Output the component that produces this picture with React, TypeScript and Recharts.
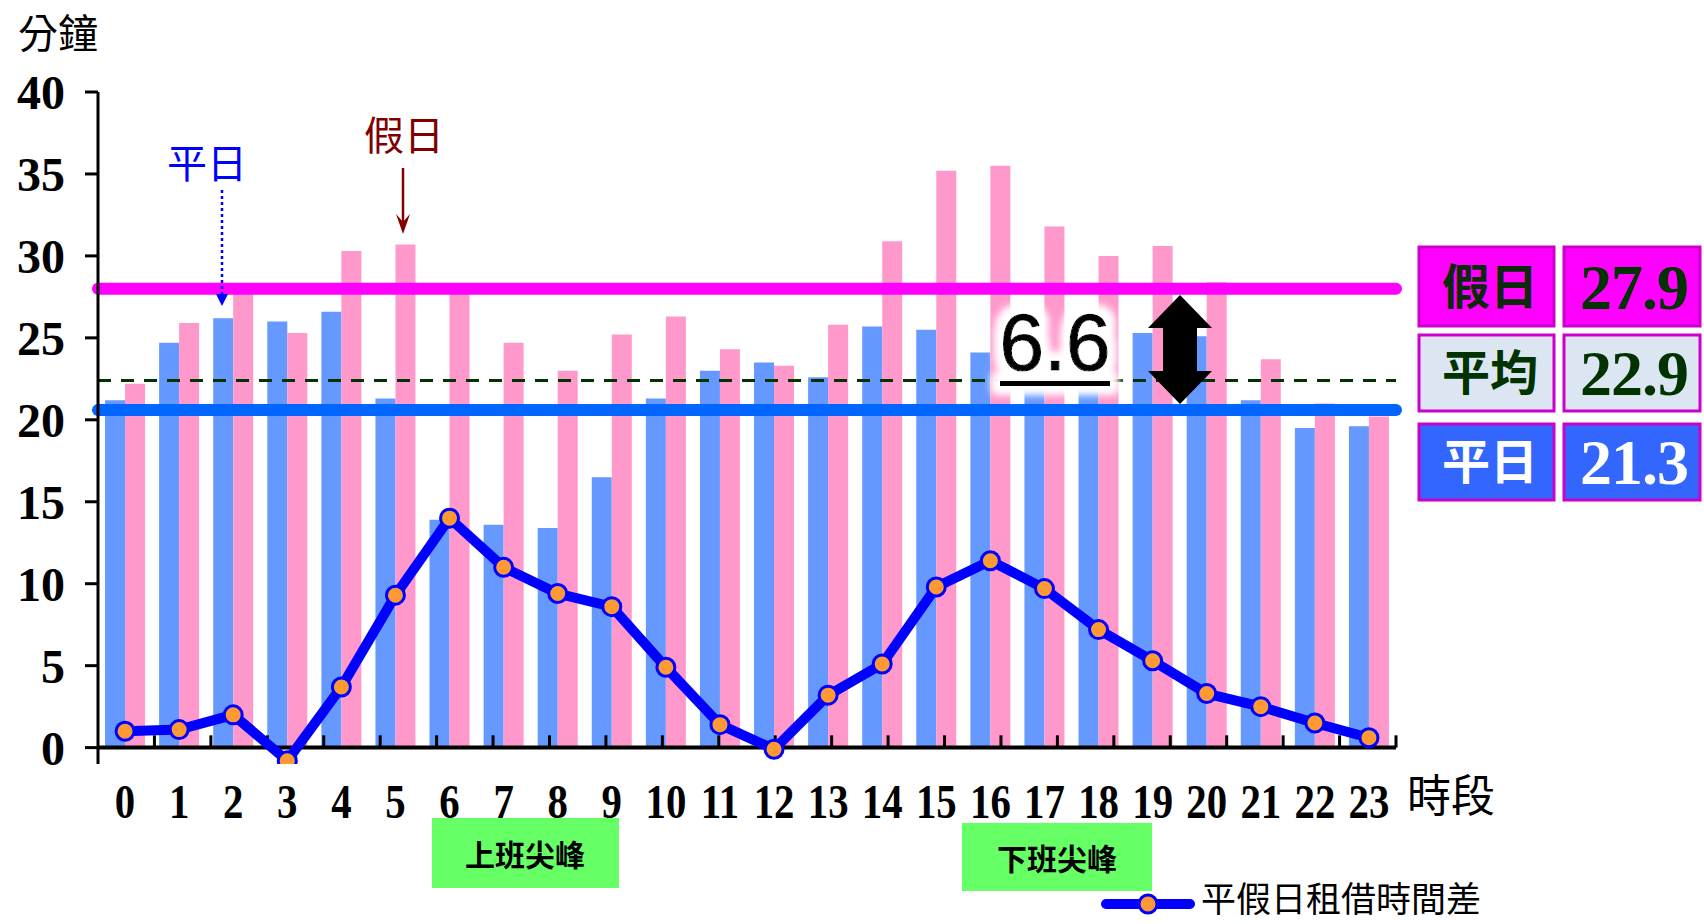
import React from 'react';
import { ComposedChart, Bar, Line, XAxis, YAxis, ReferenceLine } from 'recharts';

// hourly average rental minutes, weekday vs holiday, and their gap
const hours = ['0', '1', '2', '3', '4', '5', '6', '7', '8', '9', '10', '11', '12', '13', '14', '15', '16', '17', '18', '19', '20', '21', '22', '23'];
const weekdayMinutes = [21.2, 24.7, 26.2, 26.0, 26.6, 21.3, 13.9, 13.6, 13.4, 16.5, 21.3, 23.0, 23.5, 22.6, 25.7, 25.5, 24.1, 22.1, 22.7, 25.3, 25.1, 21.2, 19.5, 19.6];
const holidayMinutes = [22.2, 25.9, 28.2, 25.3, 30.3, 30.7, 27.9, 24.7, 23.0, 25.2, 26.3, 24.3, 23.3, 25.8, 30.9, 35.2, 35.5, 31.8, 30.0, 30.6, 28.4, 23.7, 21.0, 20.2];
const gapMinutes = [1.0, 1.1, 2.0, -0.8, 3.7, 9.3, 14.0, 11.0, 9.4, 8.6, 4.9, 1.4, -0.1, 3.2, 5.1, 9.8, 11.4, 9.7, 7.2, 5.3, 3.3, 2.5, 1.5, 0.6];

const yTicks = [0, 5, 10, 15, 20, 25, 30, 35, 40];
const boundaryTicks = [1, 2, 3, 4, 5, 6, 7, 8, 9, 10, 11, 12, 13, 14, 15, 16, 17, 18, 19, 20, 21, 22, 23, 24];

// average lines as drawn, and the summary values printed beside them
const holidayLineAt = 28.0;
const averageLineAt = 22.4;
const weekdayLineAt = 20.6;
const summaryNames = ['假日', '平均', '平日'];
const summaryValues = [27.9, 22.9, 21.3];

const seriesName = '平假日租借時間差';

const data = hours.map((h, i) => ({
  hour: h,
  weekday: weekdayMinutes[i],
  holiday: holidayMinutes[i],
  gap: gapMinutes[i],
}));

const cjk = '"Noto Sans CJK TC", "Noto Sans CJK SC", sans-serif';
const serif = '"Liberation Serif", "Times New Roman", serif';
const sans = '"Liberation Sans", Arial, sans-serif';

function HourTick({ x, y, payload }: any) {
  return (
    <g transform={`translate(${x},${y + 54}) scale(0.85,1)`}>
      <text textAnchor="middle" fontFamily={serif} fontWeight="bold" fontSize={48} fill="#000">
        {payload.value}
      </text>
    </g>
  );
}

const boxStyles = [
  { fill: '#FF00FF', label: '#0A2A0A', value: '#003300' },
  { fill: '#DCE6F2', label: '#003300', value: '#003300' },
  { fill: '#3366FF', label: '#FFFFFF', value: '#FFFFFF' },
];
const boxRows = [[247, 79], [335, 76], [424, 76]];

function Overlay() {
  const diff = (summaryValues[0] - summaryValues[2]).toFixed(1);
  return (
    <svg width={1704} height={924} style={{ position: 'absolute', left: 0, top: 0, pointerEvents: 'none' }}>
      <defs>
        <filter id="glow" x="-30%" y="-30%" width="160%" height="160%">
          <feMorphology in="SourceAlpha" operator="dilate" radius="7" result="fat" />
          <feGaussianBlur in="fat" stdDeviation="4" result="soft" />
          <feFlood floodColor="#FFFFFF" />
          <feComposite in2="soft" operator="in" result="halo" />
          <feMerge>
            <feMergeNode in="halo" />
            <feMergeNode in="halo" />
            <feMergeNode in="SourceGraphic" />
          </feMerge>
        </filter>
      </defs>

      <text x={18} y={48} fontFamily={cjk} fontSize={40} fill="#000">分鐘</text>
      <text x={1407} y={812} fontFamily={cjk} fontSize={44} fill="#000">時段</text>

      {/* 平日 pointer */}
      <text x={207} y={178} textAnchor="middle" fontFamily={cjk} fontSize={40} fill="#0000FF">平日</text>
      <line x1={222} y1={190} x2={222} y2={296} stroke="#0000FF" strokeWidth={2.5} strokeDasharray="3 3" />
      <polygon points="216,294 228,294 222,306" fill="#0000FF" />

      {/* 假日 pointer */}
      <text x={404} y={150} textAnchor="middle" fontFamily={cjk} fontSize={40} fill="#800000">假日</text>
      <line x1={403} y1={168} x2={403} y2={228} stroke="#800000" strokeWidth={2.5} />
      <polygon points="396,214 403,234 410,214 403,222" fill="#800000" />

      {/* gap label */}
      <g filter="url(#glow)">
        <text x={1055} y={370} textAnchor="middle" fontFamily={sans} fontSize={80} fill="#000" stroke="#000" strokeWidth={1.2}>{diff}</text>
        <rect x={1000} y={381} width={110} height={5} fill="#000" />
      </g>

      {/* double arrow */}
      <polygon points="1180,295 1212,328 1197,328 1197,371 1212,371 1180,404 1148,371 1163,371 1163,328 1148,328" fill="#000" />

      {/* summary boxes */}
      {summaryNames.map((name, i) => {
        const [top, h] = boxRows[i];
        const s = boxStyles[i];
        return (
          <g key={name}>
            <rect x={1419} y={top} width={135} height={h} fill={s.fill} stroke="#CC00CC" strokeWidth={3} />
            <rect x={1564} y={top} width={136} height={h} fill={s.fill} stroke="#CC00CC" strokeWidth={3} />
            <text x={1490} y={top + h / 2 + 17} textAnchor="middle" fontFamily={cjk} fontWeight="bold" fontSize={48} fill={s.label}>{name}</text>
            <text x={1634} y={top + h / 2 + 22} textAnchor="middle" fontFamily={serif} fontWeight="bold" fontSize={64} fill={s.value} letterSpacing={-1}>{summaryValues[i].toFixed(1)}</text>
          </g>
        );
      })}

      {/* rush hour tags */}
      <rect x={432} y={818} width={187} height={70} fill="#66FF66" />
      <text x={525} y={866} textAnchor="middle" fontFamily={cjk} fontWeight="bold" fontSize={30} fill="#000">上班尖峰</text>
      <rect x={962} y={823} width={190} height={68} fill="#66FF66" />
      <text x={1057} y={870} textAnchor="middle" fontFamily={cjk} fontWeight="bold" fontSize={30} fill="#000">下班尖峰</text>

      {/* legend */}
      <line x1={1106} y1={904} x2={1190} y2={904} stroke="#0000FF" strokeWidth={10} strokeLinecap="round" />
      <circle cx={1148} cy={904} r={9} fill="#FF9933" stroke="#0000FF" strokeWidth={3} />
      <text x={1201} y={912} fontFamily={cjk} fontSize={35} fill="#000">{seriesName}</text>
    </svg>
  );
}

export default function App() {
  return (
    <div style={{ position: 'absolute', left: 0, top: 0, width: 1704, height: 924, background: '#fff' }}>
      <ComposedChart
        width={1704}
        height={924}
        data={data}
        margin={{ top: 92, right: 308, bottom: 100, left: 0 }}
        barCategoryGap="13%"
        barGap={0}
      >
        <XAxis dataKey="hour" interval={0} height={60} axisLine={false} tickLine={false} tickSize={0} tickMargin={0} tick={<HourTick />} />
        <XAxis xAxisId="num" type="number" domain={[0, 24]} hide />
        <YAxis
          domain={[-1, 40]}
          ticks={yTicks}
          allowDataOverflow
          width={98}
          axisLine={{ stroke: '#000', strokeWidth: 3 }}
          tickLine={{ stroke: '#000', strokeWidth: 3 }}
          tickSize={13}
          tickMargin={20}
          tick={{ fill: '#000', fontSize: 48, fontWeight: 'bold', fontFamily: serif }}
        />
        <Bar dataKey="weekday" fill="#6699FF" isAnimationActive={false} />
        <Bar dataKey="holiday" fill="#FF99CC" isAnimationActive={false} />
        <ReferenceLine y={0} stroke="#000" strokeWidth={4} />
        {boundaryTicks.map((b) => (
          <ReferenceLine key={b} xAxisId="num" segment={[{ x: b, y: 0 }, { x: b, y: 0.75 }]} stroke="#000" strokeWidth={3} />
        ))}
        <ReferenceLine y={averageLineAt} stroke="#003300" strokeWidth={3} strokeDasharray="13 10" />
        <ReferenceLine y={holidayLineAt} stroke="#FF00FF" strokeWidth={12} strokeLinecap="round" />
        <ReferenceLine y={weekdayLineAt} stroke="#0066FF" strokeWidth={12} strokeLinecap="round" />
        <Line
          dataKey="gap"
          name={seriesName}
          stroke="#0000FF"
          strokeWidth={10}
          dot={{ r: 9, fill: '#FF9933', stroke: '#0000FF', strokeWidth: 3 }}
          isAnimationActive={false}
        />
      </ComposedChart>
      <Overlay />
    </div>
  );
}
